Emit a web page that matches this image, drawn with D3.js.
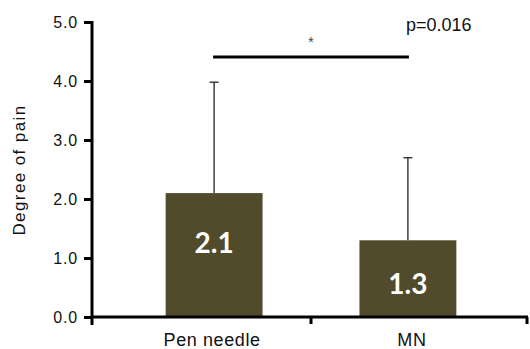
<!DOCTYPE html>
<html>
<head>
<meta charset="utf-8">
<script src="https://cdn.jsdelivr.net/npm/d3@7"></script>
<style>
  html, body { margin: 0; padding: 0; background: #fff; }
  svg { display: block; }
</style>
</head>
<body>
<svg id="chart" width="530" height="349"></svg>
<script>
// Pain scores per injection method
const categories = ["Pen needle", "MN"];
const means = [2.1, 1.3];
const sdUpper = [1.88, 1.4];
const yTicks = [0, 1, 2, 3, 4, 5];
const pLabel = "p=0.016";
const sigMark = "*";
const yTitle = "Degree of pain";

const barColor = "#514a2b";
const sans = "'Liberation Sans', Arial, sans-serif";
const svg = d3.select("#chart");

const y = d3.scaleLinear().domain([0, 5]).range([317, 22]);
const x = d3.scaleBand().domain(categories).range([92, 530])
  .paddingInner(0.5).paddingOuter(0.38);

// Bars
svg.selectAll("rect.bar").data(categories).join("rect")
  .attr("class", "bar")
  .attr("x", d => x(d))
  .attr("width", x.bandwidth())
  .attr("y", (d, i) => y(means[i]))
  .attr("height", (d, i) => y(0) - y(means[i]))
  .attr("fill", barColor);

// Upper error bars
const cx = d => x(d) + x.bandwidth() / 2;
svg.selectAll("line.err").data(categories).join("line")
  .attr("class", "err")
  .attr("x1", cx).attr("x2", cx)
  .attr("y1", (d, i) => y(means[i]))
  .attr("y2", (d, i) => y(means[i] + sdUpper[i]))
  .attr("stroke", "#222").attr("stroke-width", 1.3);
svg.selectAll("line.cap").data(categories).join("line")
  .attr("class", "cap")
  .attr("x1", d => cx(d) - 4.5).attr("x2", d => cx(d) + 4.5)
  .attr("y1", (d, i) => y(means[i] + sdUpper[i]))
  .attr("y2", (d, i) => y(means[i] + sdUpper[i]))
  .attr("stroke", "#222").attr("stroke-width", 1.3);

// Value labels inside bars
svg.selectAll("text.val").data(categories).join("text")
  .attr("class", "val")
  .attr("x", cx)
  .attr("y", (d, i) => i === 0 ? 253 : 294)
  .attr("text-anchor", "middle")
  .attr("fill", "#fff")
  .attr("font-family", "Lato, 'Open Sans', sans-serif")
  .attr("font-weight", "bold")
  .attr("font-size", 28)
  .text((d, i) => d3.format(".1f")(means[i]));

// Y axis
const yAxis = svg.append("g")
  .attr("transform", "translate(92,0)")
  .call(d3.axisLeft(y).tickValues(yTicks).tickFormat(d3.format(".1f"))
    .tickSize(8).tickPadding(6));
yAxis.select(".domain").remove();
yAxis.selectAll(".tick line").attr("stroke", "#000").attr("stroke-width", 3);
yAxis.selectAll(".tick text")
  .attr("font-family", sans)
  .attr("font-size", 16).attr("letter-spacing", 0.8)
  .attr("fill", "#111");
svg.append("line")
  .attr("x1", 92).attr("x2", 92)
  .attr("y1", y(5) - 1).attr("y2", y(0) + 8)
  .attr("stroke", "#000").attr("stroke-width", 3);

// X axis baseline with separator and end ticks
const xEnd = 528;
const xMid = (x(categories[0]) + x.bandwidth() + x(categories[1])) / 2;
svg.append("line")
  .attr("x1", 92).attr("x2", xEnd)
  .attr("y1", y(0)).attr("y2", y(0))
  .attr("stroke", "#000").attr("stroke-width", 3);
[xMid, xEnd - 1].forEach(px => {
  svg.append("line")
    .attr("x1", px).attr("x2", px)
    .attr("y1", y(0)).attr("y2", y(0) + 7)
    .attr("stroke", "#000").attr("stroke-width", 3);
});

// Category labels
svg.selectAll("text.cat").data(categories).join("text")
  .attr("class", "cat")
  .attr("x", (d, i) => cx(d) + (i === 1 ? 4 : -2))
  .attr("y", 346)
  .attr("text-anchor", "middle")
  .attr("font-family", sans)
  .attr("font-size", 18)
  .attr("letter-spacing", 0.6)
  .attr("fill", "#111")
  .text(d => d);

// Y axis title
svg.append("text")
  .attr("transform", "translate(25,170) rotate(-90)")
  .attr("text-anchor", "middle")
  .attr("font-family", sans)
  .attr("font-size", 17)
  .attr("letter-spacing", 1.4)
  .attr("fill", "#111")
  .text(yTitle);

// Significance bracket
svg.append("line")
  .attr("x1", cx(categories[0]) - 1).attr("x2", cx(categories[1]) + 1)
  .attr("y1", 57).attr("y2", 57)
  .attr("stroke", "#000").attr("stroke-width", 3);
svg.append("text")
  .attr("x", (cx(categories[0]) + cx(categories[1])) / 2)
  .attr("y", 47)
  .attr("text-anchor", "middle")
  .attr("font-family", sans)
  .attr("font-size", 14)
  .attr("fill", "#444")
  .text(sigMark);
svg.append("text")
  .attr("x", 406)
  .attr("y", 31)
  .attr("font-family", sans)
  .attr("font-size", 18)
  .attr("fill", "#111")
  .text(pLabel);
</script>
</body>
</html>
